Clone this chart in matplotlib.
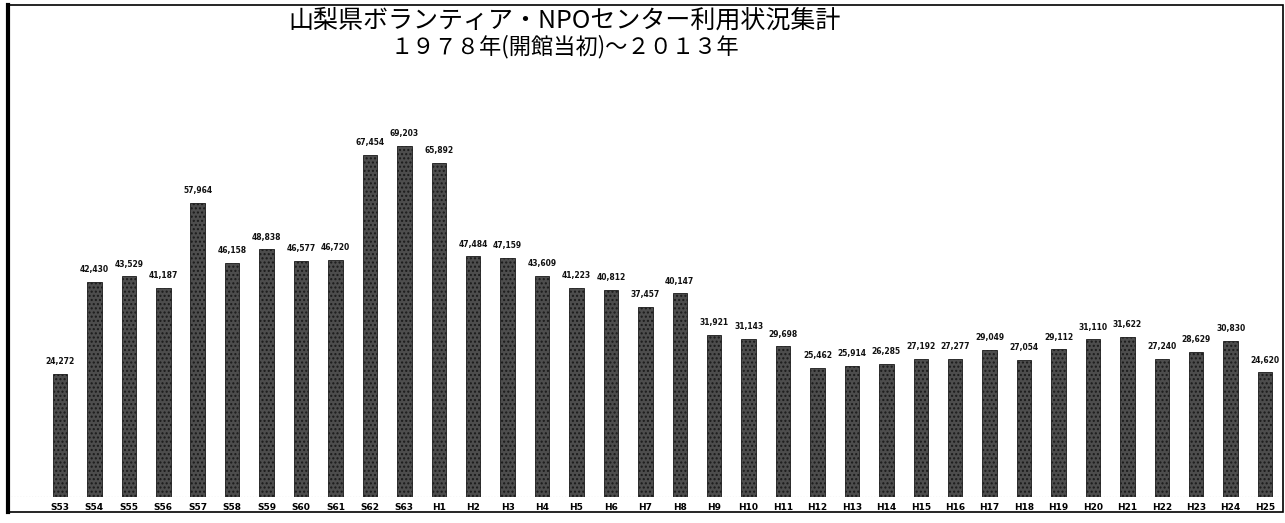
import matplotlib.pyplot as plt
from matplotlib.patches import Rectangle

plt.rcParams['font.family'] = ['Noto Sans CJK JP', 'DejaVu Sans']

# 年度ラベル (S53 = 1978 ... H25 = 2013)
years = ['S53', 'S54', 'S55', 'S56', 'S57', 'S58', 'S59', 'S60', 'S61', 'S62', 'S63',
         'H1', 'H2', 'H3', 'H4', 'H5', 'H6', 'H7', 'H8', 'H9', 'H10', 'H11', 'H12',
         'H13', 'H14', 'H15', 'H16', 'H17', 'H18', 'H19', 'H20', 'H21', 'H22', 'H23',
         'H24', 'H25']

# 利用者数
users = [24272, 42430, 43529, 41187, 57964, 46158, 48838, 46577, 46720, 67454, 69203,
         65892, 47484, 47159, 43609, 41223, 40812, 37457, 40147, 31921, 31143, 29698,
         25462, 25914, 26285, 27192, 27277, 29049, 27054, 29112, 31110, 31622, 27240,
         28629, 30830, 24620]

fig = plt.figure(figsize=(12.85, 5.23), dpi=100)
W, H = 1285, 523
ax = fig.add_axes([8 / W, 26 / H, 1275 / W, 492 / H])

x = range(len(years))
ax.bar(x, users, width=0.42, color='#4d4d4d', edgecolor='#1a1a1a', linewidth=0.6,
       hatch='....')

for i, v in enumerate(users):
    ax.text(i, v + 1500, f'{v:,}', ha='center', va='bottom', fontsize=5.5,
            fontweight='bold', color='#111111', family='DejaVu Sans')

ax.set_xlim(-1.51, 35.52)
ax.set_ylim(0, 97000)
ax.axhline(0, color='#777777', linewidth=0.8, linestyle=':')

ax.set_xticks(list(x))
ax.set_xticklabels(years, fontsize=6.5, fontweight='bold', family='DejaVu Sans')
ax.tick_params(axis='x', length=0, pad=4)
ax.set_yticks([])
for s in ax.spines.values():
    s.set_visible(False)

# 外枠
fig.patches.append(Rectangle((8 / W, 11 / H), 1275 / W, 507 / H, transform=fig.transFigure,
                             fill=False, edgecolor='black', linewidth=1.2))
fig.add_artist(plt.Line2D([8 / W, 8 / W], [11 / H, 518 / H], transform=fig.transFigure,
                          color='black', linewidth=3))

fig.text(565 / W, 1 - 21 / H, '山梨県ボランティア・NPOセンター利用状況集計',
         ha='center', va='center', fontsize=18)
fig.text(565 / W, 1 - 47 / H, '１９７８年(開館当初)～２０１３年',
         ha='center', va='center', fontsize=16)

plt.savefig('out.png', dpi=100)
